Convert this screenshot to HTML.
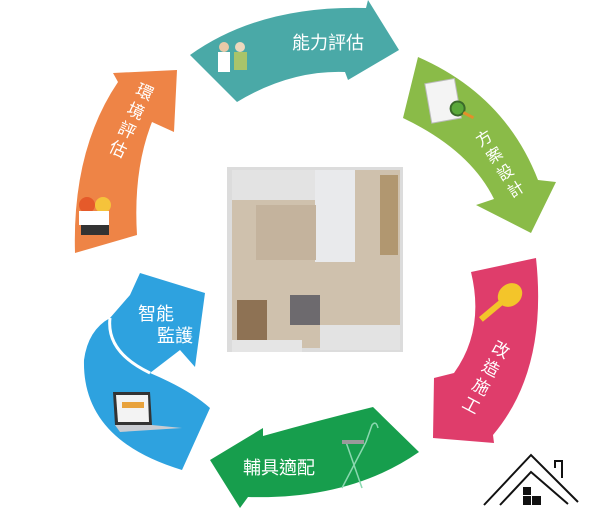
<!DOCTYPE html>
<html><head><meta charset="utf-8"><style>
html,body{margin:0;padding:0;background:#fff;}
svg{display:block;}
text{font-family:"Liberation Sans","Noto Sans CJK TC",sans-serif;fill:#fff;}
</style></head><body>
<svg width="602" height="520" viewBox="0 0 602 520" xmlns="http://www.w3.org/2000/svg">
<!-- orange -->
<path d="M75,253 Q72,150 118,82 L113,73 L177,70 L174,132 L152,122 Q133,170 137,235 Z" fill="#ee8446"/>
<g transform="translate(127,130) rotate(25)"><text x="0" y="-36" font-size="17" text-anchor="middle">環</text><text x="0" y="-15" font-size="17" text-anchor="middle">境</text><text x="0" y="6" font-size="17" text-anchor="middle">評</text><text x="0" y="27" font-size="17" text-anchor="middle">估</text></g>
<g transform="translate(95,215)"><circle cx="-8" cy="-10" r="8" fill="#e55a2a"/><circle cx="8" cy="-10" r="8" fill="#f5c33b"/><rect x="-16" y="-4" width="30" height="14" fill="#fff"/><rect x="-14" y="10" width="28" height="10" fill="#333"/></g>
<!-- teal -->
<path d="M190,55 Q260,5 366,8 L368,0 L399,50 L348,80 L345,72 Q290,70 237,102 Z" fill="#4aa9a7"/>
<text x="292" y="49" font-size="18">能力評估</text>
<g transform="translate(230,60)"><rect x="-12" y="-8" width="12" height="20" fill="#fff"/><circle cx="-6" cy="-13" r="5" fill="#e9c9a7"/><rect x="4" y="-8" width="13" height="18" fill="#a9c46a"/><circle cx="10" cy="-13" r="5" fill="#eed8bd"/></g>
<!-- light green -->
<path d="M418,57 Q505,95 538,180 L556,182 L531,233 L476,205 L494,199 Q470,150 403,118 Z" fill="#8abb48"/>
<g transform="translate(505,172) rotate(-32)"><text x="0" y="-34" font-size="16" text-anchor="middle">方</text><text x="0" y="-14" font-size="16" text-anchor="middle">案</text><text x="0" y="6" font-size="16" text-anchor="middle">設</text><text x="0" y="26" font-size="16" text-anchor="middle">計</text></g>
<g transform="translate(448,100) rotate(-10)"><rect x="-20" y="-20" width="30" height="40" fill="#f4f4f4" stroke="#bbb"/><circle cx="8" cy="10" r="7" fill="#5aa83a" stroke="#3a6a2a" stroke-width="2"/><line x1="13" y1="15" x2="22" y2="22" stroke="#e2902a" stroke-width="3"/></g>
<!-- pink -->
<path d="M471,272 L536,258 Q548,370 493,435 L494,443 L433,438 L434,378 L454,373 Q485,330 471,272 Z" fill="#df3d6b"/>
<g transform="translate(482,385) rotate(28)"><text x="0" y="-34" font-size="17" text-anchor="middle">改</text><text x="0" y="-13" font-size="17" text-anchor="middle">造</text><text x="0" y="8" font-size="17" text-anchor="middle">施</text><text x="0" y="29" font-size="17" text-anchor="middle">工</text></g>
<g transform="translate(510,295) rotate(-40)"><ellipse cx="0" cy="0" rx="13" ry="11" fill="#f3c52a"/><rect x="-38" y="-3" width="30" height="6" fill="#f3c52a"/></g>
<!-- dark green -->
<path d="M373,407 Q320,420 263,436 L263,428 L210,460 L240,508 L248,497 Q350,500 419,452 Z" fill="#179e4d"/>
<text x="243" y="474" font-size="18">輔具適配</text>
<g stroke="#8bd8b0" stroke-width="1.5" fill="none"><line x1="342" y1="488" x2="366" y2="442"/><line x1="346" y1="442" x2="362" y2="488"/><path d="M366,442 L372,425 Q376,420 378,428"/></g>
<rect x="342" y="440" width="22" height="4" fill="#9a9a9a"/>
<!-- blue -->
<path d="M182,470 Q82,440 84,360 Q88,330 110,318 L130,295 L140,273 L205,293 L195,367 L180,350 L150,373 Q190,390 210,408 Z" fill="#2ea2df"/>
<path d="M110,318 Q106,352 150,373" stroke="#fff" stroke-width="3" fill="none"/>
<text x="138" y="320" font-size="18">智能</text>
<text x="157" y="342" font-size="18">監護</text>
<g><polygon points="113,392 150,392 152,425 115,425" fill="#333"/><polygon points="116,395 148,395 149,422 118,422" fill="#f3f3f3"/><rect x="122" y="402" width="22" height="6" fill="#e8a23c"/><polygon points="115,425 152,425 182,428 120,432" fill="#c9ccd2"/></g>
<!-- floor plan -->
<rect x="227" y="167" width="176" height="185" fill="#dcdcdc"/>
<rect x="232" y="170" width="168" height="178" fill="#cfc1ad"/>
<rect x="315" y="170" width="40" height="92" fill="#e9eaec"/>
<rect x="232" y="170" width="83" height="30" fill="#e3e3e3"/>
<rect x="256" y="205" width="60" height="55" fill="#c4b39d"/>
<rect x="237" y="300" width="30" height="45" fill="#8e7254"/>
<rect x="290" y="295" width="30" height="30" fill="#6d6a6e"/>
<rect x="320" y="325" width="80" height="25" fill="#e3e3e3"/>
<rect x="380" y="175" width="18" height="80" fill="#b19770"/>
<rect x="232" y="340" width="70" height="12" fill="#e5e5e5"/>
<!-- house logo -->
<g fill="none" stroke="#111" stroke-width="2"><path d="M484,505 L531,455 L578,502"/><path d="M500,505 L531,472 L568,504"/><path d="M555,468 L555,461 L562,461 L562,478"/></g>
<g fill="#111"><rect x="523" y="487" width="8" height="8"/><rect x="523" y="496" width="8" height="9"/><rect x="532" y="496" width="9" height="9"/></g>
</svg>
</body></html>
